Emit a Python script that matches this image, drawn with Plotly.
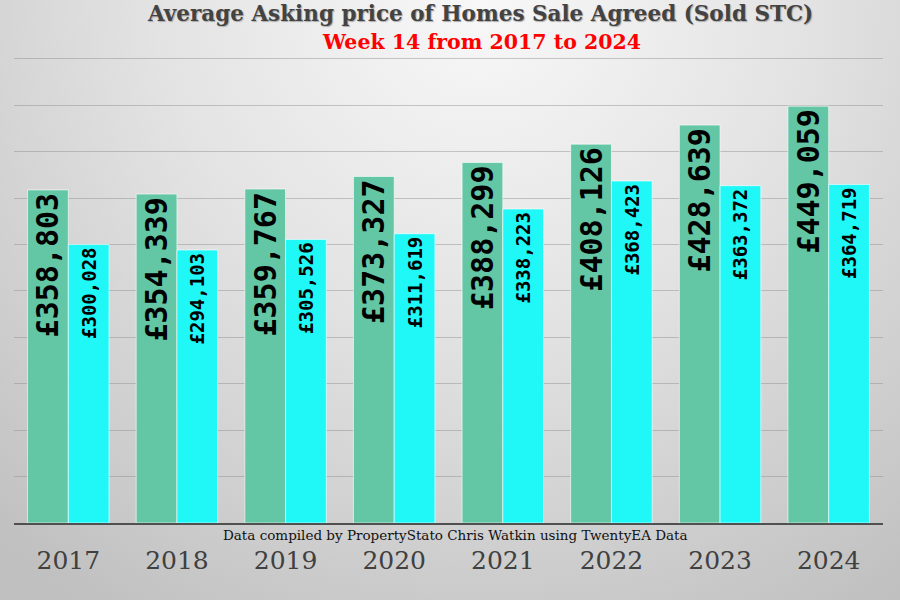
import base64
import plotly.graph_objects as go

years = ["2017", "2018", "2019", "2020", "2021", "2022", "2023", "2024"]
green_values = [358803, 354339, 359767, 373327, 388299, 408126, 428639, 449059]
cyan_values = [300028, 294103, 305526, 311619, 338223, 368423, 363372, 364719]

title_text = "Average Asking price of Homes Sale Agreed (Sold STC)"
subtitle_text = "Week 14 from 2017 to 2024"
caption_text = "Data compiled by PropertyStato Chris Watkin using TwentyEA Data"

svg = """<svg xmlns='http://www.w3.org/2000/svg' width='900' height='600' viewBox='0 0 900 600' preserveAspectRatio='none'>
<defs><radialGradient id='g' gradientUnits='userSpaceOnUse' cx='480' cy='0' r='720'>
<stop offset='0' stop-color='#f8f8f8'/><stop offset='0.45' stop-color='#e3e3e3'/><stop offset='1' stop-color='#c0c0c0'/>
</radialGradient></defs><rect width='900' height='600' fill='url(#g)'/></svg>"""
bg_src = "data:image/svg+xml;base64," + base64.b64encode(svg.encode()).decode()

L, R, T, B = 14, 17, 57, 77
W, H = 900, 600
pw, ph = W - L - R, H - T - B

fig = go.Figure()
fig.add_trace(go.Bar(
    x=years, y=green_values, name="Sold STC",
    marker=dict(color="#63C6A5", line=dict(color="rgba(255,255,255,0.6)", width=1)),
    texttemplate="£%{y:,}", textposition="inside", insidetextanchor="end",
    textangle=-90, constraintext="none",
    textfont=dict(family="DejaVu Sans Mono", size=30, color="black", weight="bold"),
))
fig.add_trace(go.Bar(
    x=years, y=cyan_values, name="Other",
    marker=dict(color="#20F8F8", line=dict(color="rgba(255,255,255,0.6)", width=1)),
    texttemplate="£%{y:,}", textposition="inside", insidetextanchor="end",
    textangle=-90, constraintext="none",
    textfont=dict(family="DejaVu Sans Mono", size=19, color="black", weight="bold"),
))

fig.update_layout(
    width=W, height=H,
    margin=dict(l=L, r=R, t=T, b=B),
    barmode="group", bargap=0.25, bargroupgap=0,
    showlegend=False,
    paper_bgcolor="#dcdcdc",
    plot_bgcolor="rgba(0,0,0,0)",
    images=[dict(source=bg_src, xref="paper", yref="paper",
                 x=-L / pw, y=1 + T / ph, sizex=W / pw, sizey=H / ph,
                 xanchor="left", yanchor="top", sizing="stretch", layer="below")],
    xaxis=dict(showgrid=False, showline=True, linecolor="#505050", linewidth=2,
               ticks="", ticklabelstandoff=14,
               tickfont=dict(family="DejaVu Serif", size=25, color="#404040")),
    yaxis=dict(range=[0, 502000], tickvals=[50000 * i for i in range(1, 11)], showticklabels=False,
               showgrid=True, gridcolor="rgba(140,140,140,0.45)", gridwidth=1,
               zeroline=False, showline=False),
    annotations=[
        dict(text=title_text, xref="paper", yref="paper", x=(480 - L) / pw, y=1 + (T - 13) / ph,
             showarrow=False, xanchor="center", yanchor="middle",
             font=dict(family="DejaVu Serif", size=21.5, color="#434343", weight="bold",
                       shadow="1px 1px 1px #aaaaaa")),
        dict(text=subtitle_text, xref="paper", yref="paper", x=(482 - L) / pw, y=1 + (T - 42) / ph,
             showarrow=False, xanchor="center", yanchor="middle",
             font=dict(family="DejaVu Serif", size=20.5, color="#ff0000", weight="bold")),
        dict(text=caption_text, xref="paper", yref="paper", x=(455 - L) / pw, y=-(535 - (T + ph)) / ph,
             showarrow=False, xanchor="center", yanchor="middle",
             font=dict(family="DejaVu Serif", size=13.5, color="#111111")),
    ],
)

fig.write_html("out.html")
